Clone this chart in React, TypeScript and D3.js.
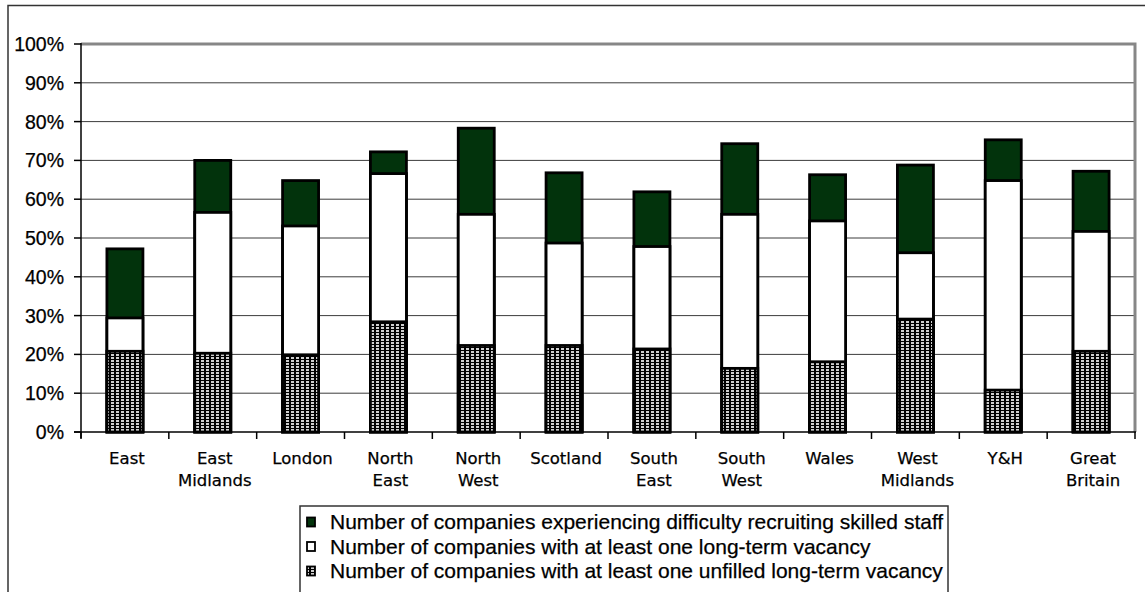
import { useEffect, useRef } from "react";
import * as d3 from "d3";

// Regions (label lines split on "|")
const categories = [
  "East", "East|Midlands", "London", "North|East", "North|West", "Scotland",
  "South|East", "South|West", "Wales", "West|Midlands", "Y&H", "Great|Britain",
];

// % of companies
const difficulty = [47.2, 70.0, 64.8, 72.2, 78.3, 66.8, 61.9, 74.3, 66.3, 68.8, 75.3, 67.2];
const longTerm = [29.4, 56.6, 53.1, 66.6, 56.1, 48.7, 47.8, 56.1, 54.4, 46.2, 64.8, 51.7];
const unfilled = [20.8, 20.3, 19.9, 28.4, 22.3, 22.3, 21.4, 16.4, 18.1, 29.1, 10.8, 20.8];

const yTicks = [0, 10, 20, 30, 40, 50, 60, 70, 80, 90, 100];

const legendLabels = [
  "Number of companies experiencing difficulty recruiting skilled staff",
  "Number of companies with at least one long-term vacancy",
  "Number of companies with at least one unfilled long-term vacancy",
];

const GREEN = "#02330c";

export default function App() {
  const svgRef = useRef<SVGSVGElement>(null);

  useEffect(() => {
    if (!svgRef.current) return;
    const svg = d3.select(svgRef.current);
    svg.selectAll("*").remove();

    const W = 1145, H = 592;
    const plot = { left: 81, right: 1135, top: 44, bottom: 432 };

    const x = d3.scaleBand<string>().domain(categories).range([plot.left, plot.right]).padding(0);
    const y = d3.scaleLinear().domain([0, 100]).range([plot.bottom, plot.top]);
    const barW = 36;

    // hatch pattern for the unfilled series
    const defs = svg.append("defs");
    const pat = defs.append("pattern")
      .attr("id", "grid-pat")
      .attr("patternUnits", "userSpaceOnUse")
      .attr("width", 5).attr("height", 3);
    pat.append("rect").attr("width", 5).attr("height", 3).attr("fill", "#000");
    pat.append("rect").attr("x", 1).attr("y", 0).attr("width", 3).attr("height", 2).attr("fill", "#cfcfcf");

    svg.append("rect").attr("width", W).attr("height", H).attr("fill", "#fff");

    // outer frame
    svg.append("path")
      .attr("d", `M8,${H + 5} V5.5 H${W + 5}`)
      .attr("fill", "none").attr("stroke", "#333").attr("stroke-width", 1.5);

    // gridlines
    svg.append("g").selectAll("line")
      .data(yTicks.filter(t => t > 0 && t < 100))
      .enter().append("line")
      .attr("x1", plot.left).attr("x2", plot.right)
      .attr("y1", d => y(d)).attr("y2", d => y(d))
      .attr("stroke", "#3c3c3c").attr("stroke-width", 1);

    // plot area border (top/right grey)
    svg.append("path")
      .attr("d", `M${plot.left},${plot.top} H${plot.right} V${plot.bottom}`)
      .attr("fill", "none").attr("stroke", "#878787").attr("stroke-width", 3);

    // axes
    svg.append("line")
      .attr("x1", plot.left).attr("x2", plot.left)
      .attr("y1", plot.top - 1).attr("y2", plot.bottom + 6)
      .attr("stroke", "#000").attr("stroke-width", 1.5);
    svg.append("line")
      .attr("x1", plot.left - 7).attr("x2", plot.right + 1)
      .attr("y1", plot.bottom).attr("y2", plot.bottom)
      .attr("stroke", "#000").attr("stroke-width", 1.5);

    // y ticks + labels
    const yAxis = svg.append("g");
    yAxis.selectAll("line")
      .data(yTicks).enter().append("line")
      .attr("x1", plot.left - 7).attr("x2", plot.left)
      .attr("y1", d => y(d)).attr("y2", d => y(d))
      .attr("stroke", "#000").attr("stroke-width", 1.5);
    yAxis.selectAll("text")
      .data(yTicks).enter().append("text")
      .attr("x", 64).attr("y", d => y(d))
      .attr("text-anchor", "end")
      .attr("dominant-baseline", "central")
      .attr("font-family", "Liberation Sans, Arial, sans-serif")
      .attr("font-size", 19.5)
      .attr("fill", "#000")
      .attr("stroke", "#000").attr("stroke-width", 0.25)
      .text(d => `${d}%`);

    // x ticks at band boundaries
    const bounds = categories.map(c => x(c)!).concat([plot.right]);
    svg.append("g").selectAll("line")
      .data(bounds).enter().append("line")
      .attr("x1", d => d).attr("x2", d => d)
      .attr("y1", plot.bottom).attr("y2", plot.bottom + 7)
      .attr("stroke", "#000").attr("stroke-width", 1.5);

    // x labels
    const xl = svg.append("g")
      .attr("font-family", "DejaVu Sans, Verdana, sans-serif")
      .attr("font-size", 16.5)
      .attr("fill", "#000")
      .attr("stroke", "#000").attr("stroke-width", 0.25)
      .attr("text-anchor", "middle");
    categories.forEach(c => {
      const cx = x(c)! + x.bandwidth() / 2 + 2;
      c.split("|").forEach((line, i) => {
        xl.append("text").attr("x", cx).attr("y", 464 + i * 22).text(line);
      });
    });

    // bars (each series drawn from zero, tallest first)
    const series = [
      { values: difficulty, fill: GREEN },
      { values: longTerm, fill: "#fff" },
      { values: unfilled, fill: "url(#grid-pat)" },
    ];
    series.forEach(s => {
      svg.append("g").selectAll("rect")
        .data(s.values).enter().append("rect")
        .attr("x", (_, i) => x(categories[i])! + x.bandwidth() / 2 - barW / 2)
        .attr("y", d => y(d))
        .attr("width", barW)
        .attr("height", d => y(0) - y(d))
        .attr("fill", s.fill)
        .attr("stroke", "#000")
        .attr("stroke-width", 2.8);
    });

    // legend
    const lg = svg.append("g");
    lg.append("rect")
      .attr("x", 300).attr("y", 506).attr("width", 648).attr("height", 120)
      .attr("fill", "#fff").attr("stroke", "#333").attr("stroke-width", 1.5);
    const swFills = [GREEN, "#fff", "url(#grid-pat)"];
    legendLabels.forEach((t, i) => {
      const cy = 522 + i * 24.5;
      lg.append("rect")
        .attr("x", 307).attr("y", cy - 4.5).attr("width", 8).attr("height", 9)
        .attr("fill", swFills[i]).attr("stroke", "#000").attr("stroke-width", 1.8);
      lg.append("text")
        .attr("x", 330).attr("y", cy + 7)
        .attr("font-family", "Liberation Sans, Arial, sans-serif")
        .attr("font-size", 21)
        .attr("fill", "#000")
        .attr("stroke", "#000").attr("stroke-width", 0.25)
        .text(t);
    });
  }, []);

  return (
    <svg
      ref={svgRef}
      width={1145}
      height={592}
      style={{ position: "absolute", left: 0, top: 0, display: "block" }}
    />
  );
}
